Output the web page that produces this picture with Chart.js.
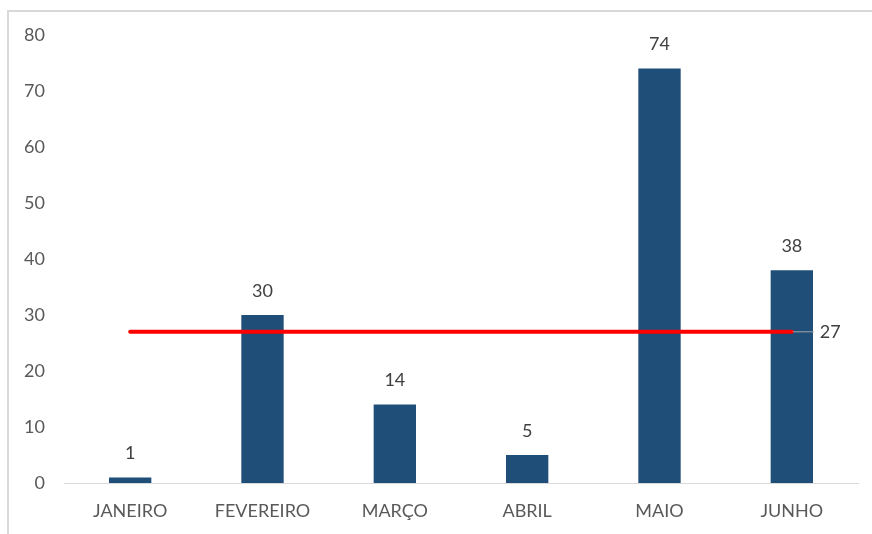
<!DOCTYPE html>
<html>
<head>
<meta charset="utf-8">
<script src="https://cdn.jsdelivr.net/npm/chart.js@4"></script>
<style>
  html, body { margin: 0; padding: 0; background: #fff; }
  #wrap { position: absolute; left: 0; top: 0; width: 872px; height: 534px; }
  #frame { position: absolute; left: 7px; top: 10px; width: 880px; height: 540px; border-left: 2px solid #d9d9d9; border-top: 2px solid #d9d9d9; box-sizing: border-box; }
  canvas { position: absolute; left: 0; top: 0; }
</style>
</head>
<body>
<div id="wrap">
  <div id="frame"></div>
  <canvas id="c" width="872" height="534"></canvas>
</div>
<script>
const categories = ['JANEIRO', 'FEVEREIRO', 'MARÇO', 'ABRIL', 'MAIO', 'JUNHO'];
const values = [1, 30, 14, 5, 74, 38];
const averageLine = [27, 27, 27, 27, 27, 27];
const averageLabel = '27';
const yTicks = [0, 10, 20, 30, 40, 50, 60, 70, 80];

const FONT = 'Lato, "Liberation Sans", sans-serif';
const TEXT = '#595959';

const labelsPlugin = {
  id: 'labelsPlugin',
  afterDatasetsDraw(chart) {
    const ctx = chart.ctx;
    ctx.save();
    ctx.font = '18px ' + FONT;
    ctx.fillStyle = '#404040';
    ctx.textAlign = 'center';
    ctx.textBaseline = 'middle';
    const barMeta = chart.getDatasetMeta(0);
    barMeta.data.forEach((bar, i) => {
      ctx.fillText(String(values[i]), bar.x, bar.y - 24);
    });
    const lineMeta = chart.getDatasetMeta(1);
    const last = lineMeta.data[lineMeta.data.length - 1];
    ctx.strokeStyle = '#a6a6a6';
    ctx.lineWidth = 1;
    ctx.beginPath();
    ctx.moveTo(last.x + 1, last.y);
    ctx.lineTo(last.x + 22, last.y);
    ctx.stroke();
    ctx.textAlign = 'left';
    ctx.fillText(averageLabel, last.x + 28, last.y);
    ctx.restore();
  }
};

new Chart(document.getElementById('c'), {
  data: {
    labels: categories,
    datasets: [
      {
        type: 'bar',
        data: values,
        backgroundColor: '#1f4e79',
        borderWidth: 0,
        categoryPercentage: 1,
        barPercentage: 0.32,
        order: 1
      },
      {
        type: 'line',
        data: averageLine,
        borderColor: '#ff0000',
        borderWidth: 4,
        borderCapStyle: 'round',
        pointRadius: 0,
        fill: false,
        order: 0
      }
    ]
  },
  options: {
    responsive: false,
    animation: false,
    layout: { padding: { top: 35, right: 14, bottom: 0, left: 0 } },
    plugins: { legend: { display: false }, tooltip: { enabled: false } },
    scales: {
      x: {
        grid: { display: false, drawTicks: false },
        border: { display: true, color: '#d9d9d9', width: 1 },
        ticks: { color: TEXT, font: { family: FONT, size: 18 }, padding: 17, maxRotation: 0 },
        afterFit(scale) { scale.height = 51; }
      },
      y: {
        min: 0, max: 80,
        afterBuildTicks(scale) { scale.ticks = yTicks.map(v => ({ value: v })); },
        grid: { display: false, drawTicks: false },
        border: { display: false },
        ticks: { color: TEXT, font: { family: FONT, size: 18 }, padding: 19 },
        afterFit(scale) { scale.width = 64; }
      }
    }
  },
  plugins: [labelsPlugin]
});
</script>
</body>
</html>
